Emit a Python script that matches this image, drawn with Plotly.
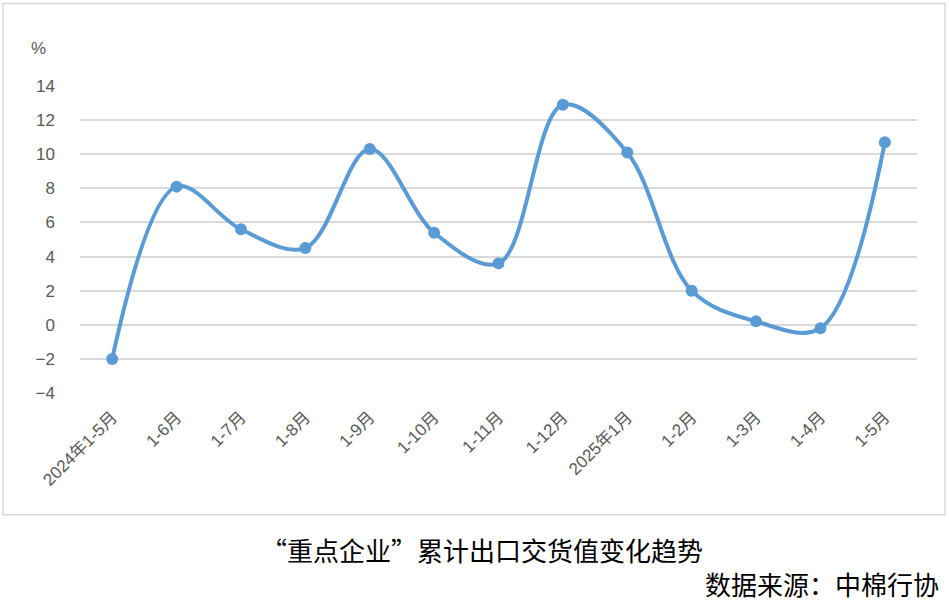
import plotly.graph_objects as go

categories = ["2024年1-5月", "1-6月", "1-7月", "1-8月", "1-9月", "1-10月", "1-11月",
              "1-12月", "2025年1月", "1-2月", "1-3月", "1-4月", "1-5月"]
values = [-2.0, 8.1, 5.6, 4.5, 10.3, 5.4, 3.6, 12.9, 10.1, 2.0, 0.2, -0.2, 10.7]
y_ticks = [-4, -2, 0, 2, 4, 6, 8, 10, 12, 14]

W, H = 949, 611
L, R, T, B = 80, 917, 85.6, 393
pw, ph = R - L, B - T

def px(x):
    return (x - L) / pw

def py(y):
    return (B - y) / ph

fig = go.Figure()
fig.add_trace(go.Scatter(
    x=categories, y=values, mode="lines+markers",
    line=dict(color="#5B9BD5", width=4, shape="spline", smoothing=1.0),
    marker=dict(color="#5B9BD5", size=12),
    showlegend=False, cliponaxis=False,
))

tick_font = dict(family="Liberation Sans, Noto Sans CJK SC", size=17, color="#595959")
fig.update_layout(
    width=W, height=H,
    margin=dict(l=L, r=W - R, t=T, b=H - B),
    plot_bgcolor="white", paper_bgcolor="white",
    xaxis=dict(type="category", tickangle=-45, tickfont=tick_font, showgrid=False,
               showline=False, ticks="", range=[-0.5, len(categories) - 0.5],
               ticklabelstandoff=10),
    yaxis=dict(range=[-4, 14], tickvals=y_ticks, tickfont=tick_font,
               showgrid=True, gridcolor="#D9D9D9", gridwidth=1.5, zeroline=False,
               showline=False, ticks="", ticklabelstandoff=24),
    shapes=[dict(type="rect", xref="paper", yref="paper",
                 x0=px(3), x1=px(945), y0=py(515), y1=py(3),
                 line=dict(color="#D9D9D9", width=1.5), fillcolor="rgba(0,0,0,0)")],
    annotations=[
        dict(text="%", xref="paper", yref="paper", x=px(38), y=py(48),
             xanchor="center", yanchor="middle",
             showarrow=False, font=dict(family="Liberation Sans", size=17, color="#595959")),
        dict(text="“重点企业”累计出口交货值变化趋势", xref="paper", yref="paper",
             x=px(482), y=py(550), xanchor="center", yanchor="middle", showarrow=False,
             font=dict(family="Noto Sans CJK SC", size=26, color="#000000")),
        dict(text="数据来源：中棉行协", xref="paper", yref="paper",
             x=px(941), y=py(584), xanchor="right", yanchor="middle", showarrow=False,
             font=dict(family="Noto Sans CJK SC", size=26, color="#000000")),
    ],
)
fig.write_html("out.html", post_script="document.body.style.margin='0';",
               config={"displayModeBar": False})
